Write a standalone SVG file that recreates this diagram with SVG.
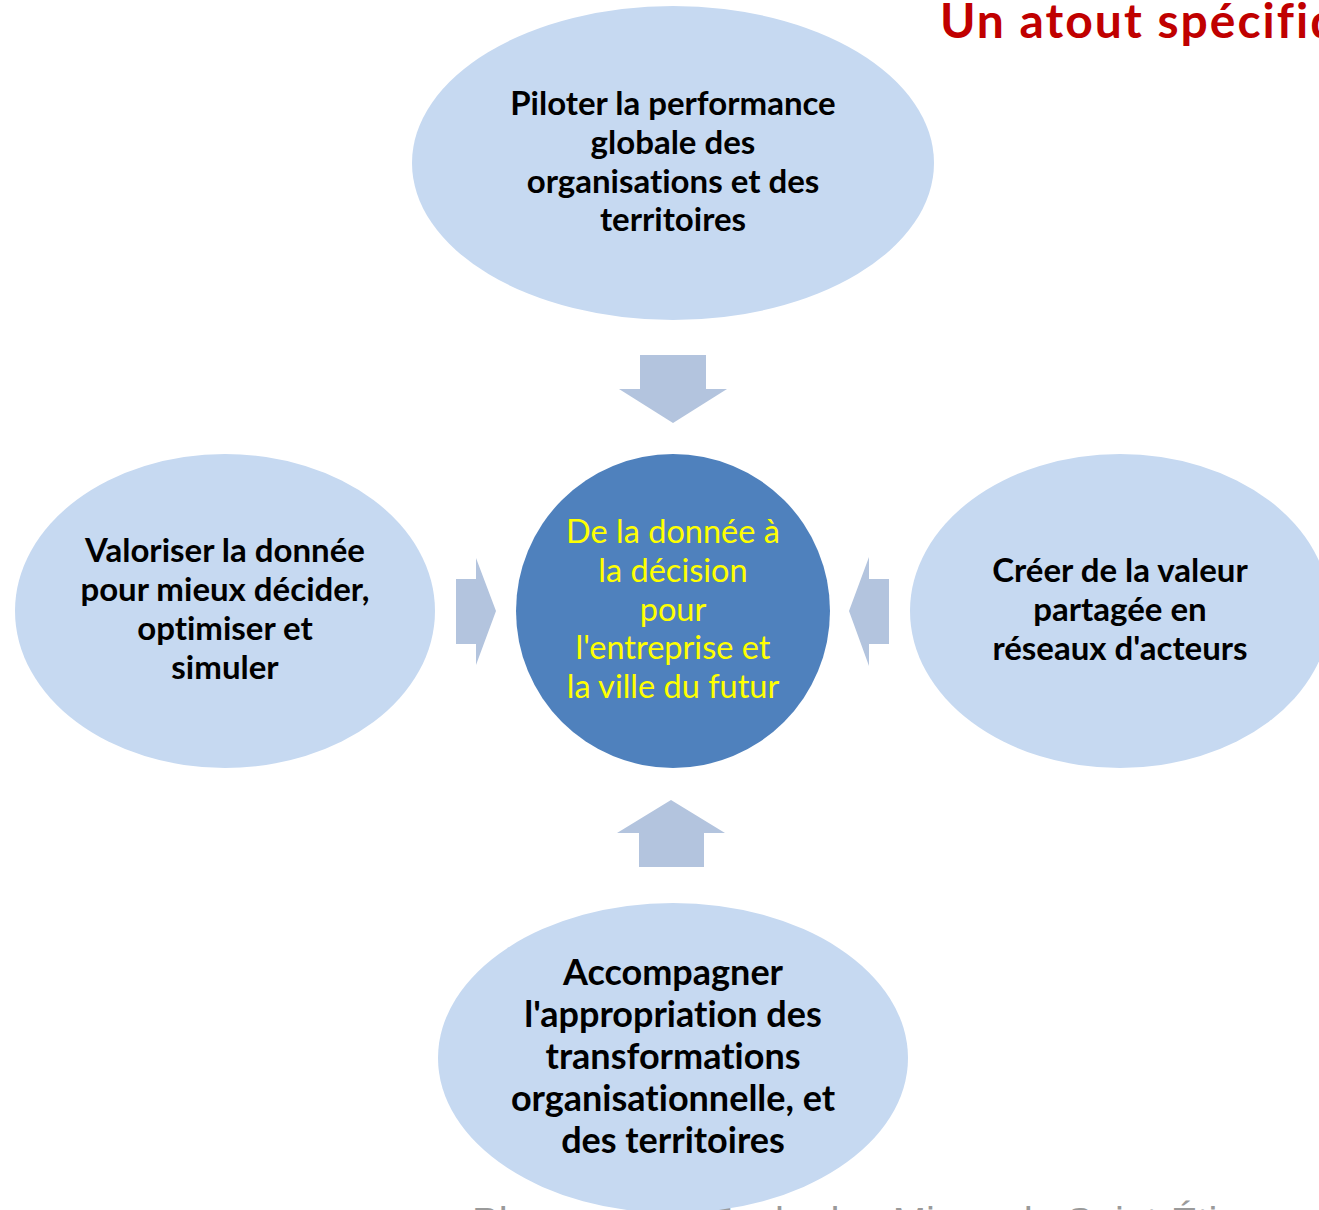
<svg xmlns="http://www.w3.org/2000/svg" width="1319" height="1210" viewBox="0 0 1319 1210">
<style>
.node{fill:#C6D9F1}
.core{fill:#4F81BD}
.arrow{fill:#B3C4DE}
text{font-variant-ligatures:none}
.lbl{font-family:Lato,"Open Sans","Liberation Sans",sans-serif;font-weight:bold;font-size:33px;fill:#000;text-anchor:middle}
.big{font-size:36px}
.ctr{font-family:Lato,"Open Sans","Liberation Sans",sans-serif;font-size:32.5px;fill:#FFFF00;text-anchor:middle}
.title{font-family:Lato,"Open Sans","Liberation Sans",sans-serif;font-weight:bold;font-size:48px;letter-spacing:2px;fill:#C00000}
.foot{font-family:"Liberation Sans",Arial,sans-serif;font-size:40px;fill:#9A9A9A}
</style>
<rect width="1319" height="1210" fill="#FFFFFF"/>
<text class="title" x="940" y="38">Un atout spécifique</text>
<text class="foot" y="1236"><tspan x="472">Plus</tspan><tspan x="706">École des Mines de Saint-Étienne</tspan></text>
<g id="connectors">
<polygon class="arrow" points="640,355 706,355 706,389 727,389 673,423 619,389 640,389"/>
<polygon class="arrow" points="639,867 704,867 704,833 725,833 671,800 617,833 639,833"/>
<polygon class="arrow" points="456,579 476,579 476,558 496,611 476,665 476,644 456,644"/>
<polygon class="arrow" points="889,579 869,579 869,557 849,611 869,666 869,644 889,644"/>
</g>
<g id="node-top">
<ellipse class="node" cx="673" cy="163" rx="261" ry="157"/>
<text class="lbl"><tspan x="673" y="115">Piloter la performance</tspan><tspan x="673" y="154">globale des</tspan><tspan x="673" y="193">organisations et des</tspan><tspan x="673" y="231">territoires</tspan></text>
</g>
<g id="node-left">
<ellipse class="node" cx="225" cy="611" rx="210" ry="157"/>
<text class="lbl"><tspan x="225" y="562">Valoriser la donnée</tspan><tspan x="225" y="601">pour mieux décider,</tspan><tspan x="225" y="640">optimiser et</tspan><tspan x="225" y="679">simuler</tspan></text>
</g>
<g id="node-right">
<ellipse class="node" cx="1120" cy="611" rx="210" ry="157"/>
<text class="lbl"><tspan x="1120" y="582">Créer de la valeur</tspan><tspan x="1120" y="621">partagée en</tspan><tspan x="1120" y="660">réseaux d'acteurs</tspan></text>
</g>
<g id="node-bottom">
<ellipse class="node" cx="673" cy="1058" rx="235" ry="155"/>
<text class="lbl big"><tspan x="673" y="985">Accompagner</tspan><tspan x="673" y="1027">l'appropriation des</tspan><tspan x="673" y="1069">transformations</tspan><tspan x="673" y="1111">organisationnelle, et</tspan><tspan x="673" y="1153">des territoires</tspan></text>
</g>
<g id="node-center">
<ellipse class="core" cx="673" cy="611" rx="157" ry="157"/>
<text class="ctr"><tspan x="673" y="543">De la donnée à</tspan><tspan x="673" y="582">la décision</tspan><tspan x="673" y="621">pour</tspan><tspan x="673" y="659">l'entreprise et</tspan><tspan x="673" y="698">la ville du futur</tspan></text>
</g>
</svg>
